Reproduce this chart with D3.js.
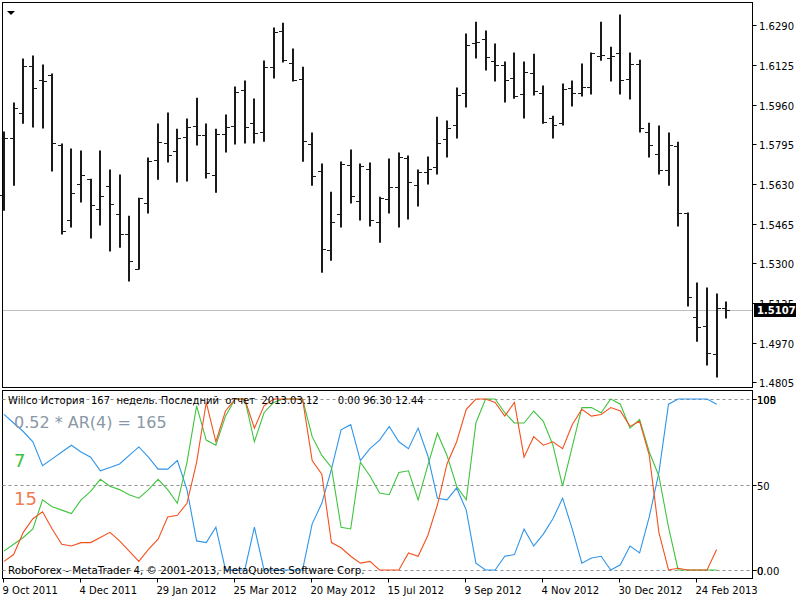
<!DOCTYPE html>
<html>
<head>
<meta charset="utf-8">
<script src="https://cdn.jsdelivr.net/npm/d3@7"></script>
<style>
  body { margin: 0; background: #fff; }
  svg { display: block; }
  text { font-family: "DejaVu Sans", Tahoma, sans-serif; }
</style>
</head>
<body>
<div id="chart"></div>
<script>
// weekly GBPUSD bars, 9 Oct 2011 .. 17 Mar 2013
const opens = [1.5584,1.5821,1.5925,1.6120,1.6062,1.6083,1.5792,1.5480,1.5630,1.5650,
  1.5526,1.5621,1.5505,1.5422,1.5276,1.5551,1.5729,1.5800,1.5767,1.5825,
  1.5871,1.5833,1.5667,1.5838,1.5871,1.6021,1.5883,1.5846,1.6116,1.6266,
  1.6133,1.6066,1.5796,1.5684,1.5355,1.5505,1.5709,1.5559,1.5692,1.5471,
  1.5567,1.5617,1.5738,1.5625,1.5679,1.5700,1.5817,1.5875,1.6008,1.6216,
  1.6233,1.6141,1.6125,1.6071,1.6004,1.6091,1.6008,1.5904,1.5883,1.6029,
  1.6008,1.6033,1.6162,1.6154,1.6175,1.6066,1.6129,1.5846,1.5754,1.5688,
  1.5788,1.5509,1.5076,1.5039,1.4922,1.5114];
const highs = [1.5846,1.5967,1.6150,1.6162,1.6125,1.6087,1.5796,1.5775,1.5767,1.5650,
  1.5767,1.5688,1.5667,1.5496,1.5571,1.5738,1.5879,1.5925,1.5858,1.5900,
  1.5987,1.5879,1.5858,1.5917,1.6033,1.6058,1.5983,1.6141,1.6279,1.6299,
  1.6191,1.6116,1.5842,1.5713,1.5596,1.5721,1.5771,1.5713,1.5717,1.5575,
  1.5734,1.5759,1.5746,1.5688,1.5742,1.5908,1.5892,1.6029,1.6254,1.6303,
  1.6266,1.6212,1.6137,1.6175,1.6137,1.6170,1.6037,1.5912,1.6046,1.6058,
  1.6129,1.6175,1.6303,1.6199,1.6333,1.6175,1.6145,1.5883,1.5871,1.5842,
  1.5804,1.5509,1.5218,1.5197,1.5172,1.5139];
const lows = [1.5521,1.5625,1.5883,1.5867,1.5863,1.5684,1.5422,1.5451,1.5555,1.5405,
  1.5459,1.5351,1.5367,1.5226,1.5276,1.5509,1.5650,1.5721,1.5638,1.5642,
  1.5792,1.5655,1.5596,1.5763,1.5796,1.5800,1.5800,1.5808,1.6071,1.6137,
  1.6058,1.5725,1.5625,1.5263,1.5313,1.5451,1.5551,1.5480,1.5455,1.5388,
  1.5509,1.5451,1.5484,1.5538,1.5630,1.5671,1.5742,1.5821,1.5950,1.6154,
  1.6104,1.6058,1.5971,1.5987,1.5904,1.6000,1.5883,1.5821,1.5875,1.5954,
  1.5996,1.6004,1.6145,1.6058,1.6004,1.5983,1.5846,1.5742,1.5671,1.5625,
  1.5455,1.5122,1.4976,1.4877,1.4827,1.5072];
const closes = [1.5821,1.5946,1.6120,1.6029,1.6058,1.5800,1.5434,1.5592,1.5667,1.5542,
  1.5580,1.5546,1.5422,1.5309,1.5571,1.5725,1.5804,1.5750,1.5821,1.5867,
  1.5833,1.5675,1.5838,1.5867,1.6012,1.5867,1.5842,1.6116,1.6262,1.6145,
  1.6062,1.5808,1.5663,1.5359,1.5471,1.5713,1.5580,1.5704,1.5480,1.5571,
  1.5617,1.5742,1.5638,1.5679,1.5692,1.5800,1.5863,1.6000,1.6208,1.6220,
  1.6158,1.6125,1.6062,1.5996,1.6095,1.6016,1.5887,1.5875,1.6025,1.6008,
  1.6033,1.6175,1.6166,1.6162,1.6062,1.6129,1.5863,1.5792,1.5688,1.5792,
  1.5509,1.5159,1.5035,1.4927,1.5114,1.5107];

// Willco index lines (0..100)
const blueLine = [91,86,81,75,61,65,69,73,69,66,58,60,62,67,72,66,59,59,64,47,
  17,16,25,0,0,0,25,0,0,0,0,0,27,39,59,82,85,64,71,76,
  84,75,71,83,67,42,41,48,35,4,0,0,8,9,24,14,21,30,42,24,
  4,7,8,0,3,14,10,31,57,97,100,100,100,100,97];
const greenLine = [11,15,19,24,41,37,35,33,41,46,53,49,47,44,42,47,53,47,39,63,
  96,76,73,90,100,100,75,92,98,100,100,100,78,67,60,25,24,63,55,45,
  44,57,58,41,61,80,67,49,41,86,100,100,92,86,86,93,87,73,49,72,
  95,95,92,100,97,83,88,69,55,25,0,0,0,0,0];
const orangeLine = [5,9,22,30,34,24,15,14,16,16,19,22,17,11,5,12,18,31,32,39,
  63,98,75,93,100,100,83,96,100,100,100,100,64,56,16,13,8,4,5,0,
  0,0,10,8,20,38,62,75,94,100,100,98,90,98,66,78,73,75,71,85,
  94,90,91,95,93,84,87,67,22,0,1,0,0,0,12];

const priceTicks = ["1.4805","1.4970","1.5135","1.5300","1.5465","1.5630","1.5795","1.5960","1.6125","1.6290"];
const lastPrice = "1.5107";
const dateTickIdx = [0,8,16,24,32,40,48,56,64,72];
const dateLabels = ["9 Oct 2011","4 Dec 2011","29 Jan 2012","25 Mar 2012","20 May 2012",
  "15 Jul 2012","9 Sep 2012","4 Nov 2012","30 Dec 2012","24 Feb 2013"];
const levels = [0, 50, 100];

const W = 800, H = 600;
const left = 2.5, right = 752.5;
const mainTop = 2.5, mainBottom = 387.5;
const subTop = 390.5, subBottom = 578.5;

const svg = d3.select("#chart").append("svg")
  .attr("width", W).attr("height", H);

svg.append("rect").attr("width", W).attr("height", H).attr("fill", "#fff");

const x = d3.scaleLinear().domain([0, 75]).range([4, 726.3]);
const y = d3.scaleLinear().domain([1.4805, 1.6290]).range([382.3, 25.3]);
const y2 = d3.scaleLinear().domain([-5, 105]).range([subBottom, subTop]);

// current price line
svg.append("line")
  .attr("x1", left).attr("x2", right)
  .attr("y1", Math.round(y(+lastPrice)) + 0.5).attr("y2", Math.round(y(+lastPrice)) + 0.5)
  .attr("stroke", "#c0c0c0");

// OHLC bars
const bars = svg.append("g").attr("stroke", "#1a1a1a");
closes.forEach((c, i) => {
  const cx = Math.round(x(i));
  bars.append("line")
    .attr("x1", cx).attr("x2", cx)
    .attr("y1", y(highs[i]) - 0.5).attr("y2", y(lows[i]) + 0.5)
    .attr("stroke-width", 2);
  const yo = Math.round(y(opens[i])) + 0.5;
  const yc = Math.round(y(c)) + 0.5;
  bars.append("line").attr("x1", cx - 4).attr("x2", cx).attr("y1", yo).attr("y2", yo);
  bars.append("line").attr("x1", cx).attr("x2", cx + 4).attr("y1", yc).attr("y2", yc);
});

// panel frames
svg.append("rect").attr("x", left).attr("y", mainTop)
  .attr("width", right - left).attr("height", mainBottom - mainTop)
  .attr("fill", "none").attr("stroke", "#000");
svg.append("rect").attr("x", left).attr("y", subTop)
  .attr("width", right - left).attr("height", subBottom - subTop)
  .attr("fill", "none").attr("stroke", "#000");

// small triangle top-left
svg.append("path").attr("d", "M7,11 L15,11 L11,15 Z").attr("fill", "#000");

// price axis
const pAxis = svg.append("g").attr("font-size", 10).attr("fill", "#000");
priceTicks.forEach(t => {
  const yy = Math.round(y(+t)) + 0.5;
  pAxis.append("line").attr("x1", right).attr("x2", right + 4)
    .attr("y1", yy).attr("y2", yy).attr("stroke", "#000");
  pAxis.append("text").attr("x", 759).attr("y", yy + 4).text(t);
});
const ly = Math.round(y(+lastPrice));
svg.append("rect").attr("x", 754).attr("y", ly - 7).attr("width", 42).attr("height", 14).attr("fill", "#000");
svg.append("text").attr("x", 757).attr("y", ly + 4).attr("font-size", 10).attr("font-weight", "bold")
  .attr("fill", "#fff").text(lastPrice);

// level lines in the lower panel
levels.forEach(v => {
  const yy = Math.round(y2(v)) + 0.5;
  svg.append("line").attr("x1", left).attr("x2", right).attr("y1", yy).attr("y2", yy)
    .attr("stroke", "#909090").attr("stroke-dasharray", "3,3");
});

// indicator lines
svg.append("clipPath").attr("id", "sub").append("rect")
  .attr("x", left).attr("y", subTop).attr("width", right - left).attr("height", subBottom - subTop);
const line = d3.line().x((d, i) => x(i)).y(d => y2(d));
const sub = svg.append("g").attr("clip-path", "url(#sub)").attr("fill", "none").attr("stroke-width", 1.1);
sub.append("path").datum(blueLine).attr("d", line).attr("stroke", "#2f95ea");
sub.append("path").datum(greenLine).attr("d", line).attr("stroke", "#3fc43f");
sub.append("path").datum(orangeLine).attr("d", line).attr("stroke", "#f4511e");

// lower axis labels
const sAxis = svg.append("g").attr("font-size", 10);
[["105", 100], ["100", 100], ["50", 50], ["0.00", 0], ["0", 0]].forEach(([t, v]) => {
  const yy = Math.round(y2(v)) + 0.5;
  sAxis.append("line").attr("x1", right).attr("x2", right + 4).attr("y1", yy).attr("y2", yy).attr("stroke", "#000");
  sAxis.append("text").attr("x", 757).attr("y", yy + 4).text(t);
});

// texts in the lower panel
svg.append("text").attr("x", 8).attr("y", 404).attr("font-size", 10).attr("xml:space", "preserve")
  .text("Willco История  167  недель. Последний  отчет  2013.03.12      0.00 96.30 12.44");
svg.append("text").attr("x", 14).attr("y", 428).attr("font-size", 16).attr("fill", "#8a97a6")
  .text("0.52 * AR(4) = 165");
svg.append("text").attr("x", 14).attr("y", 467).attr("font-size", 18).attr("fill", "#3fbf3f").text("7");
svg.append("text").attr("x", 14).attr("y", 505).attr("font-size", 18).attr("fill", "#f07a55").text("15");
svg.append("text").attr("x", 8).attr("y", 574).attr("font-size", 10.3)
  .text("RoboForex - MetaTrader 4, © 2001-2013, MetaQuotes Software Corp.");

// date axis
const dAxis = svg.append("g").attr("font-size", 10);
dateTickIdx.forEach((idx, k) => {
  const xx = Math.round(x(idx)) - 0.5;
  dAxis.append("line").attr("x1", xx).attr("x2", xx).attr("y1", subBottom).attr("y2", subBottom + 4).attr("stroke", "#000");
  dAxis.append("text").attr("x", xx - 1).attr("y", 594).text(dateLabels[k]);
});
</script>
</body>
</html>
